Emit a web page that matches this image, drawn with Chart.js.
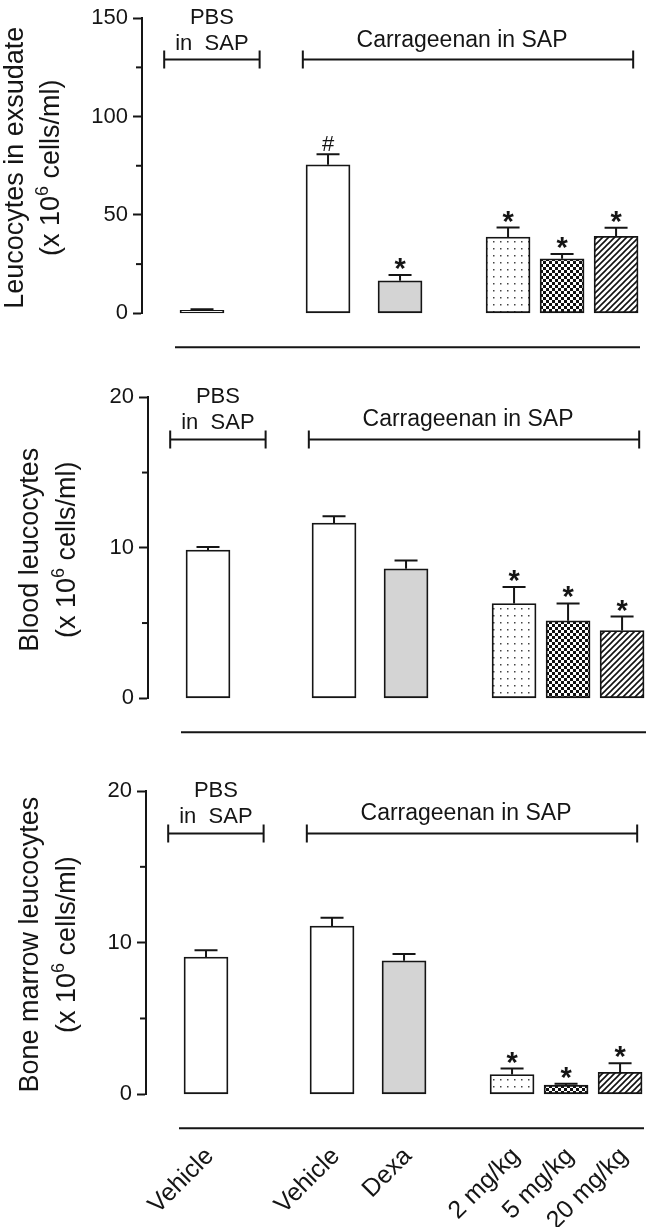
<!DOCTYPE html>
<html><head><meta charset="utf-8">
<script src="https://cdn.jsdelivr.net/npm/chart.js@4.4.1/dist/chart.umd.min.js"></script>
<style>
html,body{margin:0;padding:0;background:#fff;width:650px;height:1227px;overflow:hidden}
.p{position:absolute;left:0;width:650px}
canvas{display:block}
</style></head><body>
<div class="p" style="top:0;height:360px"><canvas id="c1"></canvas></div>
<div class="p" style="top:360px;height:380px"><canvas id="c2"></canvas></div>
<div class="p" style="top:740px;height:487px"><canvas id="c3"></canvas></div>
<script>
// ---- data ----
const categories = ['Vehicle', 'Vehicle', 'Dexa', '2 mg/kg', '5 mg/kg', '20 mg/kg'];
const groupSlots = [0, 7, 11, 17, 20, 23];
const pbsLabel = ['PBS', 'in  SAP'];
const carrLabel = 'Carrageenan in SAP';

const exudateMean = [1.5, 75.5, 16.5, 38.8, 27.7, 39.1];
const exudateSem  = [0.5, 5.3, 3.0, 4.8, 2.5, 4.4];
const exudateMarks = ['', '#', '*', '*', '*', '*'];

const bloodMean = [9.85, 11.65, 8.6, 6.3, 5.15, 4.5];
const bloodSem  = [0.2, 0.45, 0.55, 1.1, 1.15, 0.93];
const bloodMarks = ['', '', '', '*', '*', '*'];

const marrowMean = [9.05, 11.1, 8.8, 1.3, 0.6, 1.45];
const marrowSem  = [0.45, 0.55, 0.45, 0.4, 0.1, 0.6];
const marrowMarks = ['', '', '', '*', '*', '*'];

const exudateTicks = { max: 150, major: 50, minor: 25 };
const bloodTicks = { max: 20, major: 10, minor: 5 };
const marrowTicks = { max: 20, major: 10, minor: 5 };

// ---- styles ----
const FONT = '"Liberation Sans", Arial, sans-serif';
const INK = '#151515';

function tile(w, h, draw) {
  const c = document.createElement('canvas'); c.width = w; c.height = h;
  const g = c.getContext('2d'); g.fillStyle = '#fff'; g.fillRect(0, 0, w, h); draw(g);
  return c;
}
function makeFills(ctx) {
  const dots = ctx.createPattern(tile(7, 7, g => { g.fillStyle = '#444'; g.fillRect(3, 3, 1.5, 1.5); }), 'repeat');
  const check = ctx.createPattern(tile(6, 6, g => { g.fillStyle = '#111'; g.fillRect(0, 0, 3, 3); g.fillRect(3, 3, 3, 3); }), 'repeat');
  const hatch = ctx.createPattern(tile(6, 6, g => {
    g.strokeStyle = '#111'; g.lineWidth = 1.6;
    g.beginPath(); g.moveTo(-1, 7); g.lineTo(7, -1); g.moveTo(-4, 4); g.lineTo(4, -4); g.moveTo(2, 10); g.lineTo(10, 2); g.stroke();
  }), 'repeat');
  return ['#ffffff', '#ffffff', '#d4d4d4', dots, check, hatch];
}

const decor = {
  id: 'decor',
  afterDraw(chart, args, o) {
    const { ctx, chartArea: a, scales: { x, y } } = chart;
    ctx.save();
    ctx.strokeStyle = INK; ctx.fillStyle = INK; ctx.lineWidth = 2;
    // minor ticks
    for (let v = o.ticks.minor; v < o.ticks.max; v += o.ticks.major) {
      const py = y.getPixelForValue(v);
      ctx.beginPath(); ctx.moveTo(a.left - 6, py); ctx.lineTo(a.left, py); ctx.stroke();
    }
    // error bars + marks
    const meta = chart.getDatasetMeta(0);
    meta.data.forEach((bar, i) => {
      const cx = bar.x;
      const top = y.getPixelForValue(o.means[i]);
      const cap = y.getPixelForValue(o.means[i] + o.errs[i]);
      ctx.beginPath(); ctx.moveTo(cx, top); ctx.lineTo(cx, cap);
      ctx.moveTo(cx - 11.5, cap); ctx.lineTo(cx + 11.5, cap); ctx.stroke();
      const m = o.marks[i];
      if (m === '*') {
        ctx.font = 'bold 29px ' + FONT; ctx.textAlign = 'center'; ctx.textBaseline = 'alphabetic';
        ctx.fillText('*', cx, cap + 3);
      } else if (m === '#') {
        ctx.font = '22px ' + FONT; ctx.textAlign = 'center'; ctx.textBaseline = 'alphabetic';
        ctx.fillText('#', cx, cap - 3);
      }
    });
    // brackets
    const by = y.getPixelForValue(o.ticks.max * 0.86);
    o.brackets.forEach(b => {
      const x1 = x.getPixelForValue(b.from), x2 = x.getPixelForValue(b.to);
      ctx.beginPath();
      ctx.moveTo(x1, by); ctx.lineTo(x2, by);
      ctx.moveTo(x1, by - 9); ctx.lineTo(x1, by + 9);
      ctx.moveTo(x2, by - 9); ctx.lineTo(x2, by + 9);
      ctx.stroke();
      ctx.font = '22px ' + FONT; ctx.textAlign = 'center'; ctx.textBaseline = 'alphabetic';
      const tx = (x1 + x2) / 2 + b.shift;
      if (b.lines.length === 2) {
        ctx.fillText(b.lines[0], tx, by - 36);
        ctx.fillText(b.lines[1], tx, by - 10);
      } else {
        ctx.font = '23px ' + FONT;
        ctx.fillText(b.lines[0], tx, by - 13);
      }
    });
    // baseline line under the panel
    const ly = a.bottom + 34;
    ctx.beginPath(); ctx.moveTo(a.left + 33, ly); ctx.lineTo(a.left + 498, ly); ctx.stroke();
    // y title
    const cy = (a.top + a.bottom) / 2 + 2;
    ctx.save();
    ctx.translate(o.title1X, cy); ctx.rotate(-Math.PI / 2);
    ctx.font = '27px ' + FONT; ctx.textAlign = 'center'; ctx.textBaseline = 'alphabetic';
    ctx.fillText(o.title, 0, 0);
    ctx.restore();
    ctx.save();
    ctx.translate(o.title2X, cy); ctx.rotate(-Math.PI / 2);
    ctx.textAlign = 'left'; ctx.textBaseline = 'alphabetic';
    const p1 = '(x 10', sup = '6', p2 = ' cells/ml)';
    ctx.font = '27px ' + FONT; const w1 = ctx.measureText(p1).width, w2 = ctx.measureText(p2).width;
    ctx.font = '18px ' + FONT; const ws = ctx.measureText(sup).width;
    const sx = -(w1 + ws + w2) / 2;
    ctx.font = '27px ' + FONT; ctx.fillText(p1, sx, 0);
    ctx.font = '18px ' + FONT; ctx.fillText(sup, sx + w1, -11);
    ctx.font = '27px ' + FONT; ctx.fillText(p2, sx + w1 + ws, 0);
    ctx.restore();
    // x labels
    if (o.showXLabels) {
      ctx.font = '25px ' + FONT; ctx.textAlign = 'right'; ctx.textBaseline = 'middle';
      meta.data.forEach((bar, i) => {
        ctx.save();
        ctx.translate(bar.x + 4, a.bottom + 58);
        ctx.rotate(-Math.PI / 4);
        ctx.fillText(categories[i], 0, 0);
        ctx.restore();
      });
    }
    ctx.restore();
  }
};

function makeChart(id, means, errs, marks, ticks, title, pad, axisW, title1X, title2X, showXLabels) {
  const canvas = document.getElementById(id);
  const ctx = canvas.getContext('2d');
  return new Chart(canvas, {
    type: 'bar',
    data: {
      datasets: [{
        data: groupSlots.map((s, i) => ({ x: s, y: means[i] })),
        backgroundColor: makeFills(ctx),
        borderColor: INK, borderWidth: 1.8, borderSkipped: false,
        barThickness: 44, clip: false
      }]
    },
    options: {
      responsive: true, maintainAspectRatio: false, animation: false,
      layout: { padding: pad, autoPadding: false },
      plugins: {
        legend: { display: false }, tooltip: { enabled: false },
        decor: {
          means, errs, marks, ticks, title, title1X, title2X, showXLabels,
          brackets: [
            { lines: pbsLabel, from: -2.1, to: 3.2, shift: 0 },
            { lines: [carrLabel], from: 5.6, to: 23.95, shift: -6 }
          ]
        }
      },
      scales: {
        x: { type: 'linear', display: false, offset: false, min: -3.333, max: 24.44 },
        y: {
          min: 0, max: ticks.max,
          afterFit(s) { s.width = axisW; },
          ticks: {
            stepSize: ticks.major, autoSkip: false, padding: 5, color: INK,
            font: { family: FONT, size: 22 }
          },
          grid: { drawOnChartArea: false, drawTicks: true, tickLength: 9, tickWidth: 2, tickColor: INK },
          border: { display: true, color: INK, width: 2 }
        }
      }
    },
    plugins: [decor]
  });
}

makeChart('c1', exudateMean, exudateSem, exudateMarks, exudateTicks, 'Leucocytes in exsudate',
  { top: 14, bottom: 46.7, left: 0, right: 8 }, 142, 23, 59, false);
makeChart('c2', bloodMean, bloodSem, bloodMarks, bloodTicks, 'Blood leucocytes',
  { top: 37.3, bottom: 41.7, left: 0, right: 2 }, 148, 38, 75, false);
makeChart('c3', marrowMean, marrowSem, marrowMarks, marrowTicks, 'Bone marrow leucocytes',
  { top: 51, bottom: 132.7, left: 0, right: 4 }, 146, 38, 75, true);
</script>
</body></html>
